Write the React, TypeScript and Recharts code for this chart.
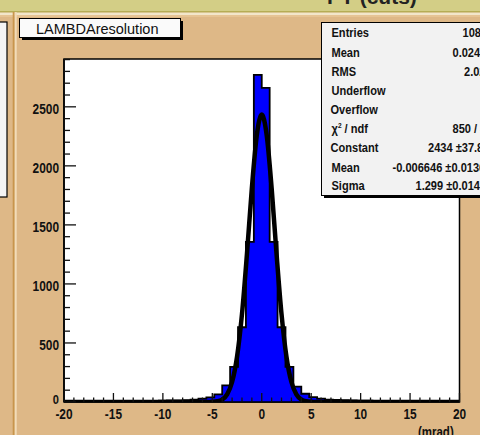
import React from "react";
import { Area, ComposedChart, Line, XAxis, YAxis } from "recharts";

// histogram: 50 bins of 0.8 mrad, low edges + counts
const binLowEdges = [
  -20, -19.2, -18.4, -17.6, -16.8, -16, -15.2, -14.4, -13.6, -12.8, -12, -11.2, -10.4, -9.6, -8.8, -8, -7.2,
  -6.4, -5.6, -4.8, -4, -3.2, -2.4, -1.6, -0.8, 0, 0.8, 1.6, 2.4, 3.2, 4, 4.8, 5.6, 6.4, 7.2, 8, 8.8, 9.6,
  10.4, 11.2, 12, 12.8, 13.6, 14.4, 15.2, 16, 16.8, 17.6, 18.4, 19.2,
];
const binCounts = [
  4, 5, 5, 6, 6, 7, 7, 8, 8, 9, 10, 10, 12, 13, 14, 16, 19, 28, 40, 65, 140, 297, 633, 1356, 2770, 2660, 1356,
  633, 297, 130, 70, 42, 28, 20, 17, 15, 13, 12, 11, 10, 9, 9, 8, 7, 7, 6, 6, 5, 5, 4,
];
const histUpper = 20;

// gaussian fit curve
const fitX = [-20, -10, -6, -5.5, -5, -4.5, -4, -3.5, -3, -2.5, -2, -1.5, -1, -0.5, 0, 0.5, 1, 1.5, 2, 2.5, 3, 3.5, 4, 4.5, 5, 5.5, 6, 10, 20];
const fitY = [0, 0, 0, 0, 1.5, 6, 21, 65, 169, 382, 744, 1250, 1810, 2260, 2434, 2260, 1810, 1250, 744, 382, 169, 65, 21, 6, 1.5, 0, 0, 0, 0];

const xTicks = [
  -20, -19, -18, -17, -16, -15, -14, -13, -12, -11, -10, -9, -8, -7, -6, -5, -4, -3, -2, -1, 0, 1, 2, 3, 4, 5, 6, 7,
  8, 9, 10, 11, 12, 13, 14, 15, 16, 17, 18, 19, 20,
];
const yTicks = [
  0, 100, 200, 300, 400, 500, 600, 700, 800, 900, 1000, 1100, 1200, 1300, 1400, 1500, 1600, 1700, 1800, 1900, 2000,
  2100, 2200, 2300, 2400, 2500, 2600, 2700, 2800, 2900,
];

const statLabels = ["Entries", "Mean", "RMS", "Underflow", "Overflow", "chi2", "Constant", "Mean", "Sigma"];
const statValues = ["10821", "0.02456", "2.025", "0", "0", "850 / 46", "2434 \u00b137.8", "-0.006646 \u00b10.01364", "1.299 \u00b10.01456"];
const statValueX = [462.5, 452.5, 464, 486, 486, 452.5, 428, 392.5, 415.5];

const SANS = "'Liberation Sans', Arial, sans-serif";
const TAN = "#deb887";
const SQUEEZE = 0.82; // ROOT's helvetica here looks condensed

type Row = { x: number; count?: number; fit?: number };
const rowMap = new Map<number, Row>();
binLowEdges.forEach((x, i) => rowMap.set(x, { x, count: binCounts[i] }));
rowMap.set(histUpper, { x: histUpper, count: binCounts[binCounts.length - 1] });
fitX.forEach((x, i) => {
  const r = rowMap.get(x) ?? { x };
  r.fit = fitY[i];
  rowMap.set(x, r);
});
const chartData = [...rowMap.values()].sort((a, b) => a.x - b.x);

function NarrowText({ x, y, size, anchor = "start", children }: { x: number; y: number; size: number; anchor?: string; children: React.ReactNode }) {
  return (
    <text
      transform={`translate(${x},${y}) scale(${SQUEEZE},1)`}
      textAnchor={anchor}
      fontFamily={SANS}
      fontWeight="bold"
      fontSize={size}
      fill="#111"
    >
      {children}
    </text>
  );
}

function XTick(props: any) {
  const { x, y, payload } = props;
  const major = payload.value % 5 === 0;
  return (
    <g>
      <line x1={x} x2={x} y1={y} y2={y - (major ? 9 : 4.5)} stroke="#111" strokeWidth={1.3} />
      {major ? (
        <NarrowText x={x} y={y + 17} size={14.5} anchor="middle">
          {payload.value}
        </NarrowText>
      ) : null}
    </g>
  );
}

function YTick(props: any) {
  const { x, y, payload } = props;
  const major = payload.value % 500 === 0;
  const isZero = payload.value === 0;
  return (
    <g>
      <line x1={x} x2={x + (major ? 12 : 6)} y1={y} y2={y} stroke="#111" strokeWidth={1.3} />
      {major ? (
        <NarrowText x={x - 5} y={isZero ? y + 2 : y + 7} size={isZero ? 13.5 : 14.5} anchor="end">
          {payload.value}
        </NarrowText>
      ) : null}
    </g>
  );
}

function Decorations() {
  return (
    <svg width={480} height={435} style={{ position: "absolute", left: 0, top: 0 }}>
      {/* canvas title bar */}
      <rect x={0} y={0} width={480} height={11} fill="#d3ce86" />
      <text x={327} y={3.5} fontFamily={SANS} fontWeight="bold" fontSize={21} fill="#222">
        PT (cuts)
      </text>
      <rect x={0} y={11} width={480} height={1.6} fill="#b5ad55" />
      <rect x={0} y={12.6} width={480} height={2.4} fill="#f2e6ca" />
      <rect x={0} y={15} width={480} height={2} fill="#e6c494" />
      {/* neighbouring pane on the left */}
      <rect x={-2} y={22} width={9} height={175} fill="#f4f4f4" stroke="#000" strokeWidth={1.2} />
      <rect x={12.7} y={12} width={2} height={423} fill="#c8954c" />
      <rect x={14.7} y={12} width={2} height={423} fill="#f2dcb8" />
      {/* frame */}
      <rect x={64} y={59} width={395.5} height={343} fill="#fff" stroke="#000" strokeWidth={1.5} />
    </svg>
  );
}

function Overlays() {
  const baselines = [36.5, 56.5, 76, 95, 113.5, 133, 152, 171.5, 190];
  return (
    <svg width={480} height={435} style={{ position: "absolute", left: 0, top: 0 }}>
      {/* histogram title */}
      <rect x={22} y={21} width={161} height={19} fill="#000" />
      <rect x={19.5} y={18.5} width={161} height={19} fill="#fafafa" stroke="#000" strokeWidth={1} />
      <text x={36} y={33.5} fontFamily={SANS} fontSize={14.5} fill="#111">
        LAMBDAresolution
      </text>
      {/* stats box */}
      <rect x={324} y={25} width={170} height={173} fill="#000" />
      <rect x={321.5} y={22.5} width={170} height={173} fill="#f2f2f2" stroke="#000" strokeWidth={1} />
      {statLabels.map((label, i) => (
        <NarrowText key={i} x={label === "Overflow" || label === "Constant" ? 330.5 : 331.5} y={baselines[i]} size={13.5}>
          {label === "chi2" ? (
            <>
              {"\u03c7"}
              <tspan dy={-5} fontSize={8}>
                2
              </tspan>
              <tspan dy={5}> / ndf</tspan>
            </>
          ) : (
            label
          )}
        </NarrowText>
      ))}
      {statValues.map((v, i) => (
        <NarrowText key={i} x={statValueX[i]} y={baselines[i]} size={13.5}>
          {v}
        </NarrowText>
      ))}
      {/* axis title */}
      <NarrowText x={418} y={437} size={14}>
        (mrad)
      </NarrowText>
    </svg>
  );
}

export default function App() {
  return (
    <div style={{ position: "absolute", left: 0, top: 0, width: 480, height: 435, overflow: "hidden", background: TAN }}>
      <Decorations />
      <div style={{ position: "absolute", left: 0, top: 0 }}>
        <ComposedChart width={480} height={435} data={chartData} margin={{ top: 59, right: 20.5, bottom: 0, left: 0 }}>
          <XAxis
            dataKey="x"
            type="number"
            domain={[-20, 20]}
            ticks={xTicks}
            interval={0}
            tickLine={false}
            tickSize={0}
            tickMargin={0}
            height={33}
            axisLine={{ stroke: "#000", strokeWidth: 1.5 }}
            tick={<XTick />}
            allowDataOverflow
          />
          <YAxis
            type="number"
            domain={[0, 2905]}
            ticks={yTicks}
            interval={0}
            tickLine={false}
            tickSize={0}
            tickMargin={0}
            width={64}
            axisLine={{ stroke: "#000", strokeWidth: 1.5 }}
            tick={<YTick />}
            allowDataOverflow
          />
          <Area
            type="stepAfter"
            dataKey="count"
            fill="#0000ff"
            fillOpacity={1}
            stroke="#000"
            strokeWidth={1.8}
            connectNulls
            isAnimationActive={false}
          />
          <Line
            type="monotone"
            dataKey="fit"
            stroke="#000"
            strokeWidth={4.5}
            dot={false}
            connectNulls
            isAnimationActive={false}
          />
        </ComposedChart>
      </div>
      <Overlays />
    </div>
  );
}
